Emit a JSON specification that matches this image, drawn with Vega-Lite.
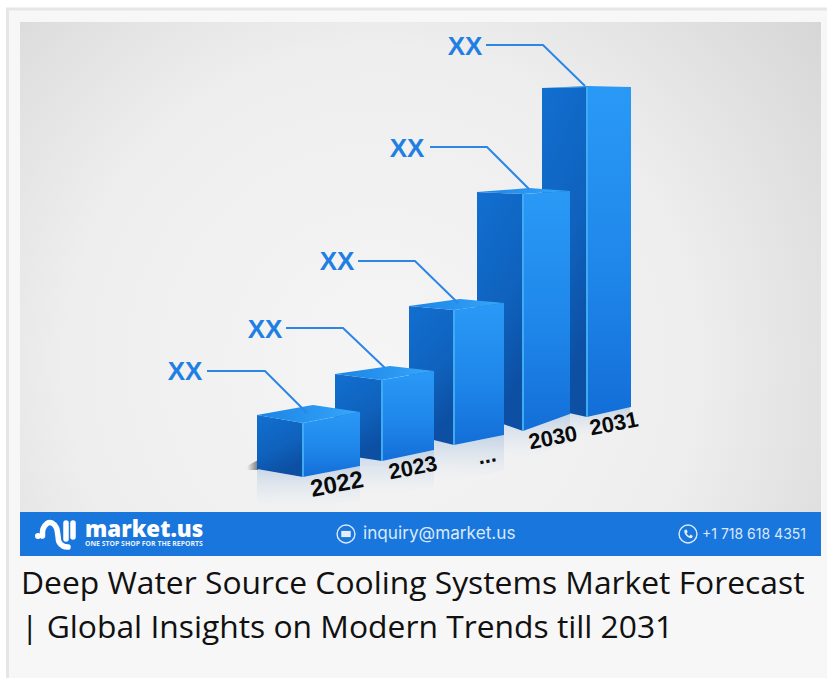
{
"$schema":"https://vega.github.io/schema/vega-lite/v6.json",
"width":827,"height":678,"padding":0,
"autosize":{"type":"fit","contains":"padding"},
"background":"#ffffff",
"config":{"view":{"stroke":null}},
"datasets":{
"frame":[
{"part":"card","x":7.5,"x2":860,"y":669,"y2":-20},
{"part":"image","x":20,"x2":821,"y":656,"y2":166},
{"part":"banner","x":20,"x2":821,"y":166,"y2":122}
],
"faces":[
{"face":"floor","bar":"2022","x":257,"y":209,"y2":175},{"face":"floor","bar":"2022","x":303,"y":201,"y2":170},{"face":"floor","bar":"2022","x":360,"y":212,"y2":178},
{"face":"floor","bar":"2023","x":360,"y":220,"y2":188},{"face":"floor","bar":"2023","x":382,"y":217,"y2":182},{"face":"floor","bar":"2023","x":434,"y":228,"y2":192},
{"face":"floor","bar":"mid","x":434,"y":238,"y2":202},{"face":"floor","bar":"mid","x":454,"y":233,"y2":196},{"face":"floor","bar":"mid","x":504,"y":243,"y2":208},
{"face":"floor","bar":"2030","x":504,"y":253,"y2":226},{"face":"floor","bar":"2030","x":523,"y":247,"y2":218},{"face":"floor","bar":"2030","x":570,"y":264,"y2":236},
{"face":"floor","bar":"2031","x":570,"y":266,"y2":246},{"face":"floor","bar":"2031","x":588,"y":261,"y2":240},{"face":"floor","bar":"2031","x":630,"y":271,"y2":252},
{"face":"shadow","bar":"2022","x":247,"y":212,"y2":208},{"face":"shadow","bar":"2022","x":258,"y":218,"y2":208},
{"face":"left","bar":"2031","x":542,"y":590,"y2":271},{"face":"left","bar":"2031","x":587,"y":591,"y2":261},
{"face":"left","bar":"2030","x":477,"y":486,"y2":263},{"face":"left","bar":"2030","x":523,"y":484,"y2":247},
{"face":"left","bar":"mid","x":409,"y":372,"y2":244},{"face":"left","bar":"mid","x":454,"y":368,"y2":233},
{"face":"left","bar":"2023","x":335,"y":304,"y2":224},{"face":"left","bar":"2023","x":382,"y":298,"y2":217},
{"face":"left","bar":"2022","x":257,"y":263,"y2":209},{"face":"left","bar":"2022","x":303,"y":255,"y2":201},
{"face":"right","bar":"2031","x":587,"y":591,"y2":261},{"face":"right","bar":"2031","x":631,"y":591,"y2":271},
{"face":"right","bar":"2030","x":523,"y":484,"y2":247},{"face":"right","bar":"2030","x":570,"y":487,"y2":264},
{"face":"right","bar":"mid","x":454,"y":368,"y2":233},{"face":"right","bar":"mid","x":504,"y":375,"y2":243},
{"face":"right","bar":"2023","x":382,"y":298,"y2":217},{"face":"right","bar":"2023","x":434,"y":307,"y2":228},
{"face":"right","bar":"2022","x":303,"y":255,"y2":201},{"face":"right","bar":"2022","x":360,"y":266,"y2":212},
{"face":"top","bar":"2031","x":542,"y":590,"y2":590},{"face":"top","bar":"2031","x":587,"y":592,"y2":591},{"face":"top","bar":"2031","x":631,"y":591,"y2":591},
{"face":"top","bar":"2030","x":477,"y":486,"y2":486},{"face":"top","bar":"2030","x":523,"y":489.5,"y2":484},{"face":"top","bar":"2030","x":529,"y":490,"y2":484.4},{"face":"top","bar":"2030","x":570,"y":487,"y2":487},
{"face":"top","bar":"mid","x":409,"y":372,"y2":372},{"face":"top","bar":"mid","x":454,"y":378.2,"y2":368},{"face":"top","bar":"mid","x":460,"y":379,"y2":368.8},{"face":"top","bar":"mid","x":504,"y":375,"y2":375},
{"face":"top","bar":"2023","x":335,"y":304,"y2":304},{"face":"top","bar":"2023","x":382,"y":310.8,"y2":298},{"face":"top","bar":"2023","x":390,"y":312,"y2":299.4},{"face":"top","bar":"2023","x":434,"y":307,"y2":307},
{"face":"top","bar":"2022","x":257,"y":263,"y2":263},{"face":"top","bar":"2022","x":303,"y":271.2,"y2":255},{"face":"top","bar":"2022","x":313,"y":273,"y2":256.9},{"face":"top","bar":"2022","x":360,"y":266,"y2":266}
],
"edges":[
{"bar":"2031","x":587,"y":591,"y2":261},
{"bar":"2030","x":523,"y":484,"y2":247},
{"bar":"mid","x":454,"y":368,"y2":233},
{"bar":"2023","x":382,"y":298,"y2":217},
{"bar":"2022","x":303,"y":255,"y2":201}
],
"callouts":[
{"bar":"2022","x":207,"y":307},{"bar":"2022","x":265,"y":307},{"bar":"2022","x":307,"y":265},
{"bar":"2023","x":286,"y":350},{"bar":"2023","x":343,"y":350},{"bar":"2023","x":385,"y":310},
{"bar":"mid","x":358,"y":417},{"bar":"mid","x":415,"y":417},{"bar":"mid","x":458,"y":375},
{"bar":"2030","x":430,"y":531},{"bar":"2030","x":487,"y":531},{"bar":"2030","x":529,"y":489},
{"bar":"2031","x":486,"y":633},{"bar":"2031","x":543,"y":633},{"bar":"2031","x":585,"y":592}
],
"logo":[
{"stroke":"arch","x":42.5,"y":142},{"stroke":"arch","x":43,"y":149},{"stroke":"arch","x":47,"y":154.5},{"stroke":"arch","x":52,"y":155},{"stroke":"arch","x":56.5,"y":150},{"stroke":"arch","x":58,"y":142},{"stroke":"arch","x":59,"y":136},{"stroke":"arch","x":63,"y":132},{"stroke":"arch","x":68,"y":131}
],
"logobars":[
{"x":66,"y":155,"y2":139},{"x":73,"y":155,"y2":141}
],
"icons":[
{"icon":"dot","x":38,"y":142},
{"icon":"ring","x":346,"y":144},
{"icon":"ring","x":688,"y":144},
{"icon":"mail","x":346,"y":144},
{"icon":"phone","x":688,"y":144}
],
"labels":[
{"kind":"value","label":"XX","x":185,"y":306},
{"kind":"value","label":"XX","x":265,"y":348},
{"kind":"value","label":"XX","x":337,"y":416},
{"kind":"value","label":"XX","x":407,"y":529},
{"kind":"value","label":"XX","x":465,"y":631},
{"kind":"first","label":"2022","x":337,"y":193},
{"kind":"year","label":"2023","x":413,"y":210},
{"kind":"year","label":"...","x":487,"y":222},
{"kind":"year","label":"2030","x":553,"y":240},
{"kind":"year","label":"2031","x":614,"y":254},
{"kind":"brand","label":"market.us","x":85,"y":141},
{"kind":"tag","label":"ONE STOP SHOP FOR THE REPORTS","x":85,"y":134},
{"kind":"contact","label":"inquiry@market.us","x":363,"y":139},
{"kind":"phone","label":"+1 718 618 4351","x":702,"y":139},
{"kind":"title","label":"Deep Water Source Cooling Systems Market Forecast","x":21,"y":84},
{"kind":"title","label":"| Global Insights on Modern Trends till 2031","x":21,"y":40}
]
},
"encoding":{
"x":{"field":"x","type":"quantitative","scale":{"domain":[0,827],"nice":false,"zero":false},"axis":null},
"y":{"field":"y","type":"quantitative","scale":{"domain":[0,678],"nice":false,"zero":false},"axis":null}
},
"layer":[
{"data":{"name":"frame"},"transform":[{"filter":"datum.part==='card'"}],
 "mark":{"type":"rect","fill":"#f7f7f7","stroke":"#e6e6e6","strokeWidth":3,"clip":true},
 "encoding":{"x2":{"field":"x2"},"y2":{"field":"y2"}}},
{"data":{"name":"frame"},"transform":[{"filter":"datum.part==='image'"}],
 "mark":{"type":"rect","fill":{"gradient":"radial","x1":0.45,"y1":0.62,"r1":0,"x2":0.45,"y2":0.62,"r2":0.78,"stops":[{"offset":0,"color":"#f5f5f5"},{"offset":0.5,"color":"#eeeeee"},{"offset":1,"color":"#d0d0d0"}]}},
 "encoding":{"x2":{"field":"x2"},"y2":{"field":"y2"}}},
{"data":{"name":"frame"},"transform":[{"filter":"datum.part==='banner'"}],
 "mark":{"type":"rect","fill":"#1976dd"},
 "encoding":{"x2":{"field":"x2"},"y2":{"field":"y2"}}},
{"data":{"name":"faces"},"transform":[{"filter":"datum.face==='floor'"}],
 "mark":{"type":"area","fill":{"gradient":"linear","x1":0,"y1":0,"x2":0,"y2":1,"stops":[{"offset":0,"color":"rgba(190,208,228,0.9)"},{"offset":1,"color":"rgba(225,232,240,0)"}]}},
 "encoding":{"y2":{"field":"y2"},"detail":{"field":"bar"}}},
{"data":{"name":"faces"},"transform":[{"filter":"datum.face==='shadow'"}],
 "mark":{"type":"area","fill":{"gradient":"linear","x1":0,"y1":0,"x2":1,"y2":0,"stops":[{"offset":0,"color":"rgba(70,70,70,0)"},{"offset":1,"color":"rgba(70,70,70,0.7)"}]}},
 "encoding":{"y2":{"field":"y2"},"detail":{"field":"bar"}}},
{"data":{"name":"faces"},"transform":[{"filter":"datum.face==='left'"}],
 "mark":{"type":"area","fill":{"gradient":"linear","x1":0,"y1":0,"x2":0.35,"y2":1,"stops":[{"offset":0,"color":"#126fd0"},{"offset":0.6,"color":"#0f62bd"},{"offset":1,"color":"#0c4fa3"}]}},
 "encoding":{"y2":{"field":"y2"},"detail":{"field":"bar"}}},
{"data":{"name":"faces"},"transform":[{"filter":"datum.face==='right'"}],
 "mark":{"type":"area","fill":{"gradient":"linear","x1":0,"y1":0,"x2":0,"y2":1,"stops":[{"offset":0,"color":"#2a99f6"},{"offset":0.55,"color":"#1f87ea"},{"offset":1,"color":"#136ed8"}]}},
 "encoding":{"y2":{"field":"y2"},"detail":{"field":"bar"}}},
{"data":{"name":"faces"},"transform":[{"filter":"datum.face==='top'"}],
 "mark":{"type":"area","fill":{"gradient":"linear","x1":0,"y1":0,"x2":1,"y2":0,"stops":[{"offset":0,"color":"#1c84e4"},{"offset":0.6,"color":"#2a98f2"},{"offset":1,"color":"#3aa8fa"}]}},
 "encoding":{"y2":{"field":"y2"},"detail":{"field":"bar"}}},
{"data":{"name":"edges"},
 "mark":{"type":"rule","strokeWidth":2,"stroke":"#3fabf5"},
 "encoding":{"y2":{"field":"y2"}}},
{"data":{"name":"callouts"},
 "mark":{"type":"line","stroke":"#2b86e6","strokeWidth":2},
 "encoding":{"detail":{"field":"bar"}}},
{"data":{"name":"labels"},"transform":[{"filter":"datum.kind==='value'"}],
 "mark":{"type":"text","font":"Liberation Sans","fontWeight":"bold","fontSize":26,"fill":"#1f7fe2","align":"center","baseline":"middle"},
 "encoding":{"text":{"field":"label"}}},
{"data":{"name":"labels"},"transform":[{"filter":"datum.kind==='first'"}],
 "mark":{"type":"text","font":"Liberation Sans","fontWeight":"bold","fontSize":24,"fill":"#0a0a0a","align":"center","baseline":"middle","angle":-11},
 "encoding":{"text":{"field":"label"}}},
{"data":{"name":"labels"},"transform":[{"filter":"datum.kind==='year'"}],
 "mark":{"type":"text","font":"Liberation Sans","fontWeight":"bold","fontSize":22,"fill":"#0a0a0a","align":"center","baseline":"middle","angle":-11},
 "encoding":{"text":{"field":"label"}}},
{"data":{"name":"labels"},"transform":[{"filter":"datum.kind==='brand'"}],
 "mark":{"type":"text","font":"Open Sans","fontWeight":800,"fontSize":22.3,"fill":"#ffffff","align":"left","baseline":"alphabetic"},
 "encoding":{"text":{"field":"label"}}},
{"data":{"name":"labels"},"transform":[{"filter":"datum.kind==='tag'"}],
 "mark":{"type":"text","font":"Open Sans","fontWeight":"bold","fontSize":6.9,"fill":"#e8f1fc","align":"left","baseline":"middle"},
 "encoding":{"text":{"field":"label"}}},
{"data":{"name":"labels"},"transform":[{"filter":"datum.kind==='contact'"}],
 "mark":{"type":"text","font":"Inter","fontSize":17.2,"fill":"#dbe9fa","align":"left","baseline":"alphabetic"},
 "encoding":{"text":{"field":"label"}}},
{"data":{"name":"labels"},"transform":[{"filter":"datum.kind==='phone'"}],
 "mark":{"type":"text","font":"Inter","fontSize":14,"fill":"#dbe9fa","align":"left","baseline":"alphabetic"},
 "encoding":{"text":{"field":"label"}}},
{"data":{"name":"labels"},"transform":[{"filter":"datum.kind==='title'"}],
 "mark":{"type":"text","font":"Open Sans","fontSize":31.8,"fill":"#111111","align":"left","baseline":"alphabetic"},
 "encoding":{"text":{"field":"label"}}},
{"data":{"name":"logo"},
 "mark":{"type":"line","interpolate":"cardinal","stroke":"#ffffff","strokeWidth":5.5,"strokeCap":"round"},
 "encoding":{"detail":{"field":"stroke"}}},
{"data":{"name":"logobars"},
 "mark":{"type":"rule","stroke":"#ffffff","strokeWidth":5.5,"strokeCap":"round"},
 "encoding":{"y2":{"field":"y2"}}},
{"data":{"name":"icons"},"transform":[{"filter":"datum.icon==='dot'"}],
 "mark":{"type":"point","shape":"circle","filled":true,"fill":"#ffffff","opacity":1,"size":36}},
{"data":{"name":"icons"},"transform":[{"filter":"datum.icon==='ring'"}],
 "mark":{"type":"point","shape":"circle","filled":false,"stroke":"#dbe9fa","strokeWidth":1.4,"opacity":1,"size":320}},
{"data":{"name":"icons"},"transform":[{"filter":"datum.icon==='mail'"}],
 "mark":{"type":"point","shape":"M-1,-0.65 L1,-0.65 L1,0.65 L-1,0.65 Z","filled":true,"fill":"#e4eefb","opacity":1,"size":90}},
{"data":{"name":"icons"},"transform":[{"filter":"datum.icon==='phone'"}],
 "mark":{"type":"point","shape":"M-0.6,-0.7 L-0.25,-0.8 L-0.05,-0.35 L-0.25,-0.15 C-0.15,0.1 0.1,0.3 0.25,0.35 L0.45,0.1 L0.85,0.35 L0.7,0.7 C0.1,0.9 -0.9,-0.1 -0.6,-0.7 Z","filled":true,"fill":"#e4eefb","opacity":1,"size":130}}
]
}
